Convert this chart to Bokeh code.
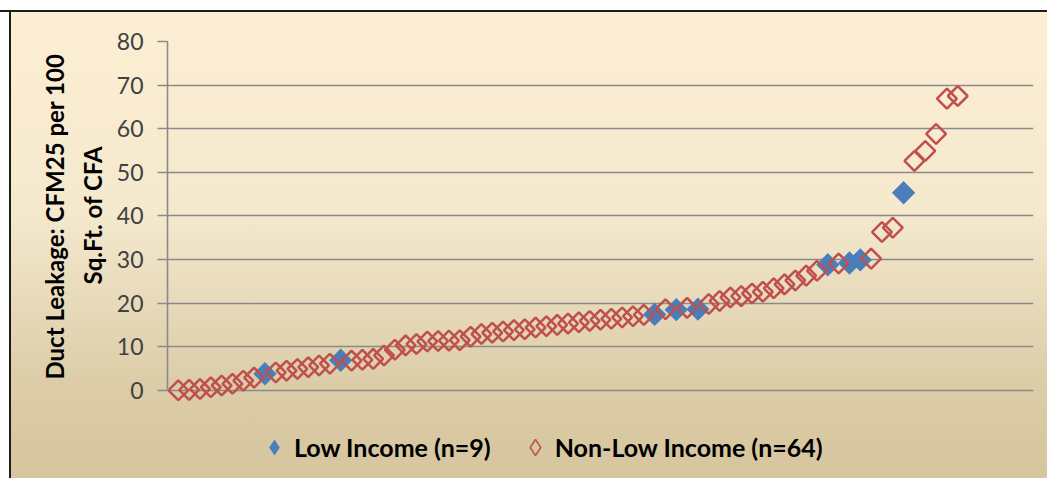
import math
from bokeh.plotting import figure
from bokeh.models import (Legend, LegendItem, InlineStyleSheet, Range1d, FixedTicker,
                          Title, ColumnDataSource)
from bokeh.embed import file_html
from bokeh.resources import INLINE

# ---- data (rank order of home, duct leakage CFM25 per 100 sq.ft. of CFA) ----
rank_low = [9, 16, 45, 47, 49, 61, 63, 64, 68]
leak_low = [3.8, 6.9, 17.4, 18.5, 18.6, 28.8, 29.2, 29.9, 45.3]

rank_non = [1, 2, 3, 4, 5, 6, 7, 8, 10, 11, 12, 13, 14, 15, 17, 18, 19, 20,
            21, 22, 23, 24, 25, 26, 27, 28, 29, 30, 31, 32, 33, 34, 35, 36,
            37, 38, 39, 40, 41, 42, 43, 44, 46, 48, 50, 51, 52, 53, 54, 55,
            56, 57, 58, 59, 60, 62, 65, 66, 67, 69, 70, 71, 72, 73]
leak_non = [0.0, 0.1, 0.3, 0.7, 1.1, 1.5, 2.2, 2.9, 4.1, 4.5, 4.9, 5.3, 5.7, 6.1,
            6.8, 7.0, 7.2, 8.0, 9.3, 10.3, 10.6, 11.2, 11.3, 11.4, 11.5, 12.3,
            12.9, 13.2, 13.5, 13.8, 14.0, 14.4, 14.7, 15.0, 15.3, 15.6, 15.9,
            16.2, 16.4, 16.7, 17.0, 17.3, 18.6, 18.9, 19.8, 20.5, 21.3, 21.6,
            22.2, 22.6, 23.4, 24.3, 25.2, 26.3, 27.4, 29.1, 30.2, 36.3, 37.3,
            52.6, 54.9, 58.8, 66.9, 67.5]

y_ticks = [0, 10, 20, 30, 40, 50, 60, 70, 80]
label_low = "Low Income (n=9)"
label_non = "Non-Low Income (n=64)"
y_title_lines = ["Duct Leakage: CFM25 per 100", "Sq.Ft. of CFA"]

BLUE = "#4A7EBB"
RED = "#C0504D"
GRID = "#8A8A8A"

css = InlineStyleSheet(css="""
:host {
  background:
    linear-gradient(180deg, #FFFFFF 0px, #FFFFFF 10px, #1c1c1c 10px, #1c1c1c 12px, rgba(0,0,0,0) 12px),
    linear-gradient(90deg, #FFFFFF 0px, #FFFFFF 9px, #1c1c1c 9px, #1c1c1c 11px, rgba(0,0,0,0) 11px),
    linear-gradient(180deg, #FDEFD4 0%, #F4E8CD 45%, #DCCDA8 80%, #D6C59E 100%);
}
""")

# the frame reaches down to the window bottom so the legend can sit inside it;
# the axis and grid are bounded to the 0..80 scale
p = figure(width=1047, height=478, x_range=Range1d(0, 80), y_range=Range1d(-20, 80),
           output_backend="svg", toolbar_location=None,
           min_border_left=167, min_border_right=14, min_border_top=41, min_border_bottom=1)
p.stylesheets = [css]
p.background_fill_color = None
p.border_fill_color = None
p.outline_line_color = None

p.xaxis.visible = False
p.xgrid.visible = False
p.ygrid.grid_line_color = GRID
p.ygrid.grid_line_width = 1.6
p.ygrid.ticker = FixedTicker(ticks=y_ticks)

yax = p.yaxis[0]
yax.ticker = FixedTicker(ticks=y_ticks)
yax.bounds = (0, 80)
yax.axis_line_color = GRID
yax.axis_line_width = 1.6
yax.major_tick_line_color = GRID
yax.major_tick_line_width = 1.6
yax.major_tick_out = 10
yax.major_tick_in = 0
yax.minor_tick_line_color = None
yax.major_label_text_font = "Lato"
yax.major_label_text_font_size = "23px"
yax.major_label_text_color = "#404040"
yax.major_label_standoff = 14

# two-line axis title, placed as side titles so it centres on the 0..80 span
title_style = dict(text_font="Lato", text_font_style="bold", text_font_size="24px",
                   text_color="#000000", align="left", vertical_align="bottom")
t2 = Title(text=y_title_lines[1], offset=193, standoff=14, **title_style)
p.add_layout(t2, "left")
t1 = Title(text=y_title_lines[0], offset=98, standoff=0, **title_style)
p.add_layout(t1, "left")

r_low = p.scatter(rank_low, leak_low, marker="square", angle=math.pi / 4, size=16.5,
                  fill_color=BLUE, line_color=None)
r_non = p.scatter(rank_non, leak_non, marker="square", angle=math.pi / 4, size=14,
                  fill_color=None, line_color=RED, line_width=2.5)

# legend swatches (diamonds; a single undrawable NaN row so the swatch has its styles)
swatch = ColumnDataSource(data=dict(x=[float("nan")], y=[float("nan")]))
k_low = p.scatter("x", "y", source=swatch, marker="diamond", fill_color=BLUE, line_color=None)
k_non = p.scatter("x", "y", source=swatch, marker="diamond", fill_color=None,
                  line_color=RED, line_width=1.5)

legend = Legend(items=[LegendItem(label=label_low, renderers=[k_low]),
                       LegendItem(label=label_non, renderers=[k_non])],
                orientation="horizontal", location=(87, 10),
                background_fill_alpha=0, border_line_color=None,
                label_text_font="Lato", label_text_font_style="bold",
                label_text_font_size="25px", label_text_color="#000000",
                padding=0, margin=0, spacing=24, glyph_width=40, glyph_height=40,
                label_standoff=0, label_height=20)
p.add_layout(legend)

open("out.html", "w").write(file_html(p, INLINE))
